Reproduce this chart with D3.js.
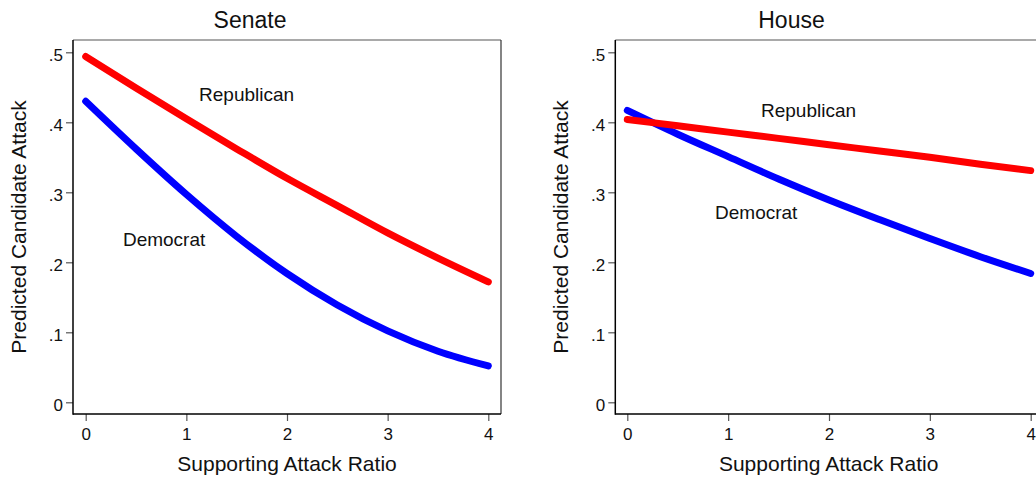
<!DOCTYPE html>
<html>
<head>
<meta charset="utf-8">
<script src="https://cdn.jsdelivr.net/npm/d3@7"></script>
<style>
  body { margin: 0; background: #fff; }
  svg { font-family: "Liberation Sans", Arial, Helvetica, sans-serif; }
</style>
</head>
<body>
<svg width="1036" height="479"></svg>
<script>
// data
const xVals = [0, 0.5, 1, 1.5, 2, 2.5, 3, 3.5, 4];
const senateRep = [0.494, 0.449, 0.405, 0.362, 0.320, 0.281, 0.242, 0.206, 0.172];
const senateDem = [0.430, 0.362, 0.297, 0.237, 0.184, 0.139, 0.102, 0.073, 0.052];
const houseRep = [0.404, 0.395, 0.386, 0.377, 0.368, 0.359, 0.350, 0.340, 0.331];
const houseDem = [0.417, 0.383, 0.351, 0.319, 0.289, 0.261, 0.234, 0.208, 0.184];
const xTicks = [0, 1, 2, 3, 4];
const yTicks = [0, 0.1, 0.2, 0.3, 0.4, 0.5];
const yTickLabels = ["0", ".1", ".2", ".3", ".4", ".5"];

const svg = d3.select("svg");

function drawPanel(p) {
    const g = svg.append("g");
    let x = d3.scaleLinear().domain([0, 4]).range([p.x0, p.x4]);
    let y = d3.scaleLinear().domain([0, 0.5]).range([402.3, 52.3]);

    // frame: top and right lighter
    g.append("line").attr("x1", p.left).attr("x2", p.right).attr("y1", 40).attr("y2", 40)
        .attr("stroke", "#555").attr("stroke-width", 1.2);
    g.append("line").attr("x1", p.right).attr("x2", p.right).attr("y1", 40).attr("y2", 414)
        .attr("stroke", "#333").attr("stroke-width", 1.2);

    const yAxis = d3.axisLeft(y).tickValues(yTicks)
        .tickFormat((d, i) => yTickLabels[i]).tickSize(7).tickPadding(3).tickSizeOuter(0);
    const ya = g.append("g").attr("transform", `translate(${p.left},0)`).call(yAxis);
    ya.select(".domain").remove();
    ya.selectAll(".tick line").attr("stroke", "#555").attr("stroke-width", 1.2);
    ya.selectAll(".tick text").attr("dy", "0.5em").style("font-size", "17px")
        .style("font-family", "Liberation Sans, Arial, sans-serif").attr("fill", "#111");

    const xAxis = d3.axisBottom(x).tickValues(xTicks).tickFormat(d3.format("d"))
        .tickSize(7).tickPadding(7).tickSizeOuter(0);
    const xa = g.append("g").attr("transform", "translate(0,414)").call(xAxis);
    xa.select(".domain").remove();
    xa.selectAll(".tick line").attr("stroke", "#555").attr("stroke-width", 1.2);
    xa.selectAll(".tick text").style("font-size", "17px")
        .style("font-family", "Liberation Sans, Arial, sans-serif").attr("fill", "#111");

    // left and bottom black axis lines
    g.append("line").attr("x1", p.left).attr("x2", p.left).attr("y1", 40).attr("y2", 414.7)
        .attr("stroke", "#000").attr("stroke-width", 1.5);
    g.append("line").attr("x1", p.left).attr("x2", p.right).attr("y1", 414).attr("y2", 414)
        .attr("stroke", "#000").attr("stroke-width", 1.5);

    const line = d3.line().x((d, i) => x(xVals[i])).y(d => y(d)).curve(d3.curveMonotoneX);

    g.append("path").datum(p.dem).attr("d", line)
        .attr("fill", "none").attr("stroke", "#0000ff").attr("stroke-width", 7)
        .attr("stroke-linecap", "round");
    g.append("path").datum(p.rep).attr("d", line)
        .attr("fill", "none").attr("stroke", "#ff0000").attr("stroke-width", 7)
        .attr("stroke-linecap", "round");

    g.append("text").attr("x", x(p.repLab[0])).attr("y", y(p.repLab[1]))
        .style("font-size", "19px").attr("fill", "#111").text("Republican");
    g.append("text").attr("x", x(p.demLab[0])).attr("y", y(p.demLab[1]))
        .style("font-size", "19px").attr("fill", "#111").text("Democrat");

    // titles
    g.append("text").attr("x", p.titleX).attr("y", 28).attr("text-anchor", "middle")
        .style("font-size", "23px").attr("fill", "#111").text(p.title);
    g.append("text").attr("x", (p.left + p.right) / 2).attr("y", 471).attr("text-anchor", "middle")
        .style("font-size", "21px").attr("fill", "#111").text("Supporting Attack Ratio");
    g.append("text").attr("transform", `translate(${p.yLabX},227) rotate(-90)`)
        .attr("text-anchor", "middle")
        .style("font-size", "21px").attr("fill", "#111").text("Predicted Candidate Attack");
}

drawPanel({
    title: "Senate", titleX: 250, left: 73, right: 501, x0: 85.7, x4: 488.3, yLabX: 26,
    rep: senateRep, dem: senateDem, repLab: [1.126, 0.430], demLab: [0.37, 0.223]
});
drawPanel({
    title: "House", titleX: 791.5, left: 615.3, right: 1042, x0: 627.3, x4: 1030.7, yLabX: 568.3,
    rep: houseRep, dem: houseDem, repLab: [1.326, 0.408], demLab: [0.87, 0.262]
});
</script>
</body>
</html>
